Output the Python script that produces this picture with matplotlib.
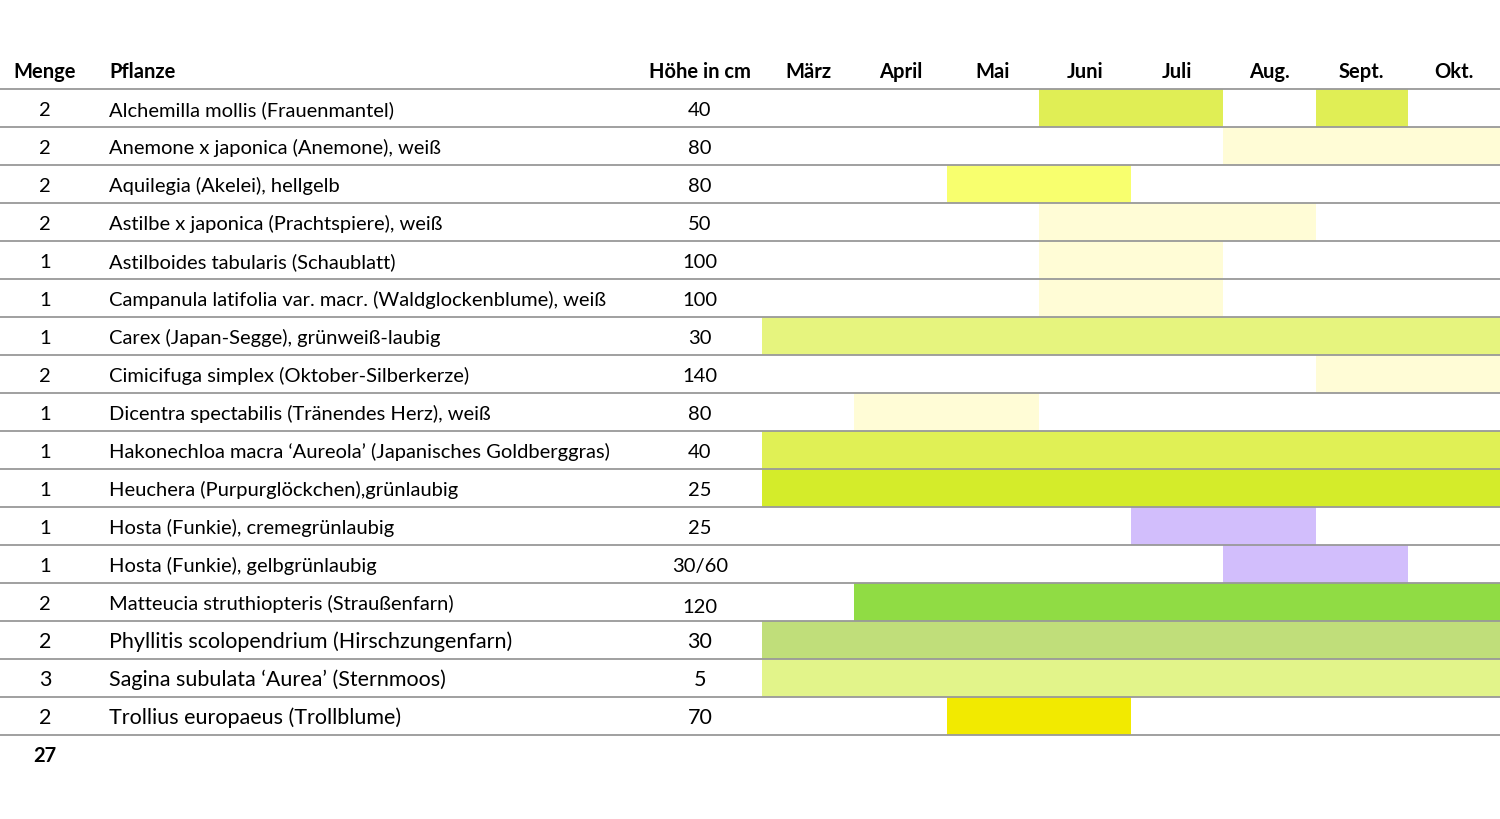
import matplotlib
matplotlib.use("Agg")
import matplotlib.pyplot as plt

# ---- data ----
months = ["März", "April", "Mai", "Juni", "Juli", "Aug.", "Sept.", "Okt."]
menge = [2, 2, 2, 2, 1, 1, 1, 2, 1, 1, 1, 1, 1, 2, 2, 3, 2]
pflanzen = [
    "Alchemilla mollis (Frauenmantel)",
    "Anemone x japonica (Anemone), weiß",
    "Aquilegia (Akelei), hellgelb",
    "Astilbe x japonica (Prachtspiere), weiß",
    "Astilboides tabularis (Schaublatt)",
    "Campanula latifolia var. macr. (Waldglockenblume), weiß",
    "Carex (Japan-Segge), grünweiß-laubig",
    "Cimicifuga simplex (Oktober-Silberkerze)",
    "Dicentra spectabilis (Tränendes Herz), weiß",
    "Hakonechloa macra ‘Aureola’ (Japanisches Goldberggras)",
    "Heuchera (Purpurglöckchen),grünlaubig",
    "Hosta (Funkie), cremegrünlaubig",
    "Hosta (Funkie), gelbgrünlaubig",
    "Matteucia struthiopteris (Straußenfarn)",
    "Phyllitis scolopendrium (Hirschzungenfarn)",
    "Sagina subulata ‘Aurea’ (Sternmoos)",
    "Trollius europaeus (Trollblume)",
]
hoehe = ["40", "80", "80", "50", "100", "100", "30", "140", "80", "40", "25", "25",
         "30/60", "120", "30", "5", "70"]
# bloom / season periods per row: list of (first month index, number of months)
perioden = [
    [(3, 2), (6, 1)],
    [(5, 3)],
    [(2, 2)],
    [(3, 3)],
    [(3, 2)],
    [(3, 2)],
    [(0, 8)],
    [(6, 2)],
    [(1, 2)],
    [(0, 8)],
    [(0, 8)],
    [(4, 2)],
    [(5, 2)],
    [(1, 7)],
    [(0, 8)],
    [(0, 8)],
    [(2, 2)],
]
summe = sum(menge)

# ---- styles ----
farben = ["#E0EE55", "#FFFCD6", "#F8FF6E", "#FFFCD6", "#FFFCD6", "#FFFCD6",
          "#E6F47E", "#FFFCD6", "#FFFCD6", "#E0F055", "#D4EC2A", "#D2BEFC",
          "#D2BEFC", "#90DC44", "#C0DE7A", "#E2F48A", "#F2EA00"]
groessen = [14.5] * 14 + [15.5] * 3

plt.rcParams["font.family"] = ["Lato", "DejaVu Sans"]

W, H = 1500, 820
fig = plt.figure(figsize=(W / 100, H / 100), dpi=100)
ax = fig.add_axes([0, 0, 1, 1])

# geometry in pixels -> data units (x: month units, y: row units)
X0, MW = 762.0, 92.25     # left edge of März column, month width
Y0, RH = 89.5, 38.0       # top of first row, row height
ax.set_xlim((0 - X0) / MW, (W - X0) / MW)
ax.set_ylim((H - Y0) / RH, (0 - Y0) / RH)
ax.axis("off")


def px(x):
    return (x - X0) / MW


n = len(pflanzen)
# bars
for i, per in enumerate(perioden):
    ax.broken_barh(per, (i, 1), facecolors=farben[i], edgecolor="none", zorder=1)

# horizontal lines
for i in range(n + 1):
    ax.plot([px(0), px(W)], [i, i], color="#999999", lw=1.3, zorder=3,
            solid_capstyle="butt")

# header
hy = -0.45
hdr = dict(fontsize=14.5, fontweight="bold", va="center", color="black")
ax.text(px(45), hy, "Menge", ha="center", **hdr)
ax.text(px(109), hy, "Pflanze", ha="left", **hdr)
ax.text(px(700), hy, "Höhe in cm", ha="center", **hdr)
for j, m in enumerate(months):
    ax.text(j + 0.5, hy, m, ha="center", **hdr)

# rows
for i in range(n):
    yc = i + 0.54
    fs = groessen[i]
    ax.text(px(45), yc, str(menge[i]), ha="center", va="center", fontsize=fs)
    ax.text(px(109), yc, pflanzen[i], ha="left", va="center", fontsize=fs)
    dy = 0.1 if i == 13 else 0.0
    ax.text(px(700), yc + dy, hoehe[i], ha="center", va="center", fontsize=fs)

ax.text(px(45), n + 0.54, str(summe), ha="center", va="center", fontsize=14.5,
        fontweight="bold")

fig.savefig("out.png", dpi=100, facecolor="white")
